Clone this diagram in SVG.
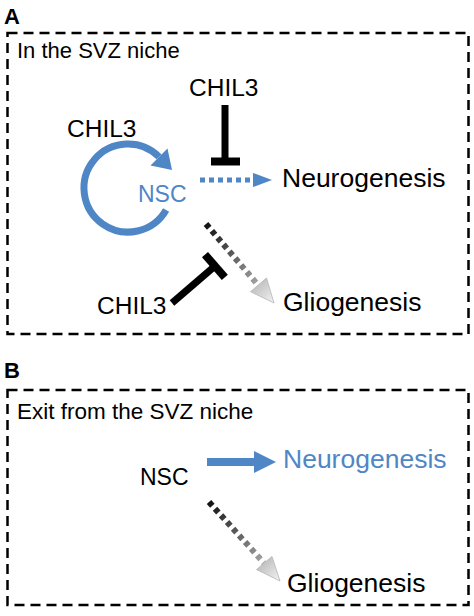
<svg xmlns="http://www.w3.org/2000/svg" width="474" height="616" viewBox="0 0 474 616">
  <style>
    .t { font-family: "Liberation Sans", Arial, sans-serif; fill: #000; }
    .lbl { font-family: "Liberation Sans", Arial, sans-serif; font-weight: bold; font-size: 22px; fill: #000; }
    .blue { fill: #4f86c6; }
    .box { fill: none; stroke: #000; stroke-width: 2.5; stroke-dasharray: 10 6; }
    .inh { stroke: #000; fill: none; }
  </style>
  <defs>
    <linearGradient id="gA" gradientUnits="userSpaceOnUse" x1="206" y1="224" x2="262" y2="289">
      <stop offset="0" stop-color="#111"/>
      <stop offset="1" stop-color="#b0b0b0"/>
    </linearGradient>
    <linearGradient id="gB" gradientUnits="userSpaceOnUse" x1="209" y1="502" x2="267" y2="567">
      <stop offset="0" stop-color="#111"/>
      <stop offset="1" stop-color="#b0b0b0"/>
    </linearGradient>
    <linearGradient id="hA" gradientUnits="userSpaceOnUse" x1="254" y1="281" x2="273" y2="302">
      <stop offset="0" stop-color="#b8b8b8"/>
      <stop offset="1" stop-color="#f0f0f0"/>
    </linearGradient>
    <linearGradient id="hB" gradientUnits="userSpaceOnUse" x1="260" y1="560" x2="279" y2="580">
      <stop offset="0" stop-color="#b8b8b8"/>
      <stop offset="1" stop-color="#f0f0f0"/>
    </linearGradient>
  </defs>

  <rect width="474" height="616" fill="#fff"/>

  <!-- Panel A -->
  <g id="panel-a">
    <text class="lbl" x="4" y="24">A</text>
    <rect class="box" x="7.5" y="33" width="461" height="301"/>
    <text class="t" x="17" y="58" font-size="22">In the SVZ niche</text>
  </g>
  <g id="nsc-a"><text class="t blue" x="138" y="202" font-size="23">NSC</text></g>
  <g id="neurogenesis-a"><text class="t" x="282" y="187" font-size="26.5">Neurogenesis</text></g>
  <g id="gliogenesis-a"><text class="t" x="283" y="311" font-size="26.5">Gliogenesis</text></g>
  <g id="chil3-top"><text class="t" x="189" y="96" font-size="24.5">CHIL3</text></g>
  <g id="chil3-left"><text class="t" x="67" y="137" font-size="24.5">CHIL3</text></g>
  <g id="chil3-bottom"><text class="t" x="97" y="314" font-size="24.5">CHIL3</text></g>

  <!-- Panel B -->
  <g id="panel-b">
    <text class="lbl" x="4" y="378">B</text>
    <rect class="box" x="7.5" y="390" width="461" height="215"/>
    <text class="t" x="17" y="419" font-size="22.5">Exit from the SVZ niche</text>
  </g>
  <g id="nsc-b"><text class="t" x="140" y="485" font-size="23">NSC</text></g>
  <g id="neurogenesis-b"><text class="t blue" x="283" y="468" font-size="26.5">Neurogenesis</text></g>
  <g id="gliogenesis-b"><text class="t" x="287" y="592" font-size="26.5">Gliogenesis</text></g>

  <g id="connectors">
    <!-- self-renewal loop -->
    <path d="M166.1,210 A44,44 0 1 1 159.1,156.9" fill="none" stroke="#4f86c6" stroke-width="7"/>
    <polygon points="167.5,148.5 172,170 150.5,165.5" fill="#4f86c6"/>
    <!-- NSC -> Neurogenesis dotted -->
    <line x1="200" y1="180" x2="254" y2="180" stroke="#4f86c6" stroke-width="5" stroke-dasharray="5 4"/>
    <polygon points="253,173 272,180 253,187" fill="#4f86c6"/>
    <!-- top inhibition -->
    <line class="inh" x1="225" y1="105" x2="225" y2="161" stroke-width="7"/>
    <line class="inh" x1="211" y1="161.5" x2="240" y2="161.5" stroke-width="8"/>
    <!-- NSC -> Gliogenesis (A) -->
    <line x1="206" y1="224" x2="258" y2="285" stroke="url(#gA)" stroke-width="6" stroke-dasharray="5 4"/>
    <polygon points="266.5,278 274,303 250.5,291.7" fill="url(#hA)" stroke="#b5b5b5" stroke-width="0.8"/>
    <!-- bottom inhibition -->
    <line class="inh" x1="172" y1="303" x2="215" y2="266" stroke-width="7"/>
    <line class="inh" x1="205" y1="254.6" x2="224.8" y2="277.4" stroke-width="8"/>
    <!-- B: NSC -> Neurogenesis -->
    <line x1="207" y1="462" x2="256" y2="462" stroke="#4f86c6" stroke-width="8"/>
    <polygon points="254,451 276,462 254,473" fill="#4f86c6"/>
    <!-- B: NSC -> Gliogenesis -->
    <line x1="209" y1="502" x2="264" y2="563" stroke="url(#gB)" stroke-width="6" stroke-dasharray="5 4"/>
    <polygon points="272,556.5 280,581 256.5,569.5" fill="url(#hB)" stroke="#b5b5b5" stroke-width="0.8"/>
  </g>
</svg>
